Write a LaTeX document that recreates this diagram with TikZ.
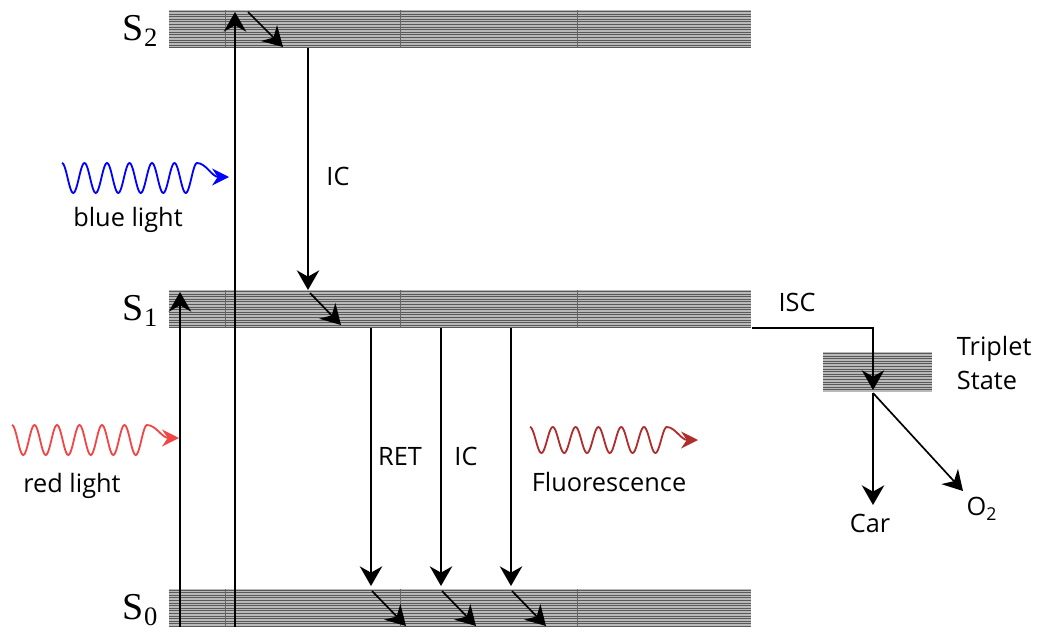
\documentclass[tikz,border=0pt]{standalone}
\usepackage{fontspec}
\setmainfont{Open Sans}
\newfontfamily\levelfont{Liberation Serif}
\usetikzlibrary{arrows.meta}
\tikzset{
  band/.style 2 args={inner sep=0pt, fill=gray!55, minimum width=#1, minimum height=#2,
    path picture={\foreach \k in {0,...,14}
      \draw[black!65, line width=0.7pt] ([yshift=-1pt-\k*1.85pt]path picture bounding box.north west)
        -- ([yshift=-1pt-\k*1.85pt]path picture bounding box.north east);}},
  trans/.style={line width=1.2pt, -{Stealth[length=14pt,width=16pt,inset=4.5pt]}},
  photon/.style={line width=1.3pt, -{Stealth[length=12pt,width=12pt,inset=4pt]}},
  lbl/.style={font=\fontsize{18}{24}\selectfont},
  lvl/.style={font=\levelfont\fontsize{27}{30}\selectfont}
}
\definecolor{lightred}{RGB}{240,70,70}
\definecolor{fluored}{RGB}{175,45,45}
\begin{document}
\begin{tikzpicture}[x=0.025cm, y=-0.025cm]
    \useasboundingbox (0,0) rectangle (1037,637);
    \node[band={413.9pt}{26.9pt}] (S2) at (460,29) {};
    \node[band={413.9pt}{26.9pt}] (S1) at (460,309) {};
    \node[band={413.9pt}{26.9pt}] (S0) at (460,607.5) {};
    \node[band={77.2pt}{28.3pt}] (T1) at (877.5,372) {};
    \foreach \b/\y in {S2/29,S1/309,S0/607.5}
        \foreach \x in {225,400,577}
            \draw[black!60, line width=0.4pt] (\x,\y-19) -- (\x,\y+19);
    \node[lvl, anchor=east] (lS2) at (163,31) {S\textsubscript{2}};
    \node[lvl, anchor=east] (lS1) at (163,311) {S\textsubscript{1}};
    \node[lvl, anchor=east] (lS0) at (163,610) {S\textsubscript{0}};
    % excitation
    \coordinate (b0) at (235,627); \coordinate (b1) at (235,12);
    \coordinate (r0) at (180,627); \coordinate (r1) at (180,292);
    \draw[trans] (b0) -- (b1);
    \draw[trans] (r0) -- (r1);
    % relaxation in S2 and IC to S1
    \coordinate (v0) at (248,12); \coordinate (v1) at (283,47);
    \draw[trans] (v0) -- (v1);
    \coordinate (ic0) at (308,48); \coordinate (ic1) at (308,290);
    \draw[trans] (ic0) -- (ic1);
    \coordinate (w0) at (310,293); \coordinate (w1) at (341,325);
    \draw[trans] (w0) -- (w1);
    % decay to S0
    \foreach \x in {371,441,511} {
        \draw[trans] (\x,328) coordinate (d\x) -- (\x,586) coordinate (e\x);
        \draw[trans] (\x+1,591) coordinate (f\x) -- (\x+35,626) coordinate (g\x);
    }
    % intersystem crossing
    \coordinate (isc0) at (752,328); \coordinate (isc1) at (873,328); \coordinate (isc2) at (873,390);
    \draw[trans] (isc0) -- (isc1) -- (isc2);
    \coordinate (t0) at (873,393);
    \node[lbl] (car) at (870,523) {Car};
    \node[lbl] (ox) at (982,509) {O\textsubscript{2}};
    \draw[trans] (t0) -- (873,505);
    \draw[trans] (t0) -- (963,491);
    % light
    \coordinate (blueEnd) at (229,177);
    \coordinate (redEnd) at (179,438);
    \coordinate (fluoEnd) at (698,440);
    \draw[photon, blue] plot[domain=0:6, samples=145, smooth] ({62+22.5*\x},{178-15*cos(360*\x)})
        .. controls (206,163) and (212,177) .. (blueEnd);
    \draw[photon, lightred] plot[domain=0:6, samples=145, smooth] ({12+22.5*\x},{440-15*cos(360*\x)})
        .. controls (156,425) and (162,438) .. (redEnd);
    \draw[photon, fluored] plot[domain=0:6, samples=145, smooth] ({530+22.8*\x},{440-13*cos(360*\x)})
        .. controls (675,427) and (681,440) .. (fluoEnd);
    % labels
    \node[lbl] (lic1) at (338,176) {IC};
    \node[lbl] (lblue) at (128,220) {blue light};
    \node[lbl] (lred) at (72,486) {red light};
    \node[lbl] (lret) at (400,456) {RET};
    \node[lbl] (lic2) at (466,456) {IC};
    \node[lbl] (lfluo) at (609,482) {Fluorescence};
    \node[lbl] (lisc) at (797,302) {ISC};
    \node[lbl, align=left, anchor=west] (ltrip) at (952,363) {Triplet\\State};
\end{tikzpicture}
\end{document}
